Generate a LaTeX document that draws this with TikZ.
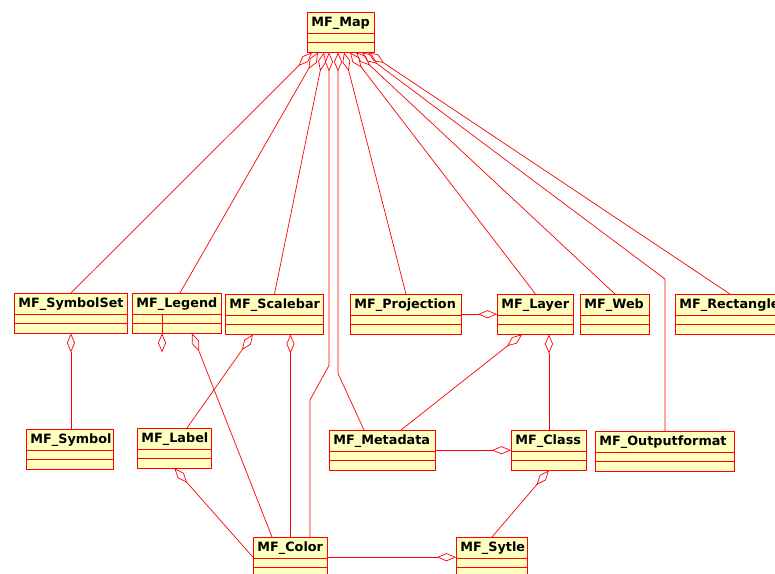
\documentclass[tikz,border=0pt]{standalone}
\usepackage{fontspec}
\setmainfont{DejaVu Sans}
\usetikzlibrary{arrows.meta,calc}
\definecolor{classfill}{HTML}{FFFFC0}
\definecolor{umlred}{HTML}{FF0000}
\tikzset{
  cls/.style={draw=umlred, line width=0.9pt, fill=classfill, anchor=north west,
    inner xsep=4pt, inner ysep=0pt, text height=14.5pt, text depth=25pt,
    text width=#1pt, align=left, font=\fontsize{12.8}{14}\selectfont\bfseries,
    path picture={
      \draw[umlred, line width=0.9pt]
        ([yshift=-21pt]path picture bounding box.north west) -- ([yshift=-21pt]path picture bounding box.north east)
        ([yshift=-30pt]path picture bounding box.north west) -- ([yshift=-30pt]path picture bounding box.north east);
    }},
  agg/.style={draw=umlred, line width=0.7pt, {Diamond[open, length=19pt, width=8pt]}-}
}
\begin{document}
\begin{tikzpicture}[x=1pt, y=-1pt]
  \useasboundingbox (0,0) rectangle (775,573);
  \fill[white] (0,0) rectangle (775,573);
  \clip (0,0) rectangle (775,573);

  % classes
  \node[cls=59]  (map)          at (307,12)  {MF\_Map};
  \node[cls=105] (symbolset)    at (14,293)  {MF\_SymbolSet};
  \node[cls=81]  (legend)       at (132,293) {MF\_Legend};
  \node[cls=90]  (scalebar)     at (225,294) {MF\_Scalebar};
  \node[cls=103] (projection)   at (350,294) {MF\_Projection};
  \node[cls=68]  (layer)        at (497,294) {MF\_Layer};
  \node[cls=61]  (web)          at (580,294) {MF\_Web};
  \node[cls=101] (rectangle)    at (675,294) {MF\_Rectangle};
  \node[cls=79]  (symbol)       at (26,429)  {MF\_Symbol};
  \node[cls=66]  (label)        at (137,428) {MF\_Label};
  \node[cls=98]  (metadata)     at (329,430) {MF\_Metadata};
  \node[cls=67]  (class)        at (511,430) {MF\_Class};
  \node[cls=131] (outputformat) at (595,431) {MF\_Outputformat};
  \node[cls=66]  (color)        at (253,537) {MF\_Color};
  \node[cls=63]  (sytle)        at (456,537) {MF\_Sytle};

  % aggregations owned by MF_Map
  \draw[agg] ($(map.south west)+(5,0)$)  -- (symbolset.north);
  \draw[agg] ($(map.south west)+(11,0)$) -- ($(legend.north)+(3,0)$);
  \draw[agg] ($(map.south west)+(17,0)$) -- (scalebar.north);
  \draw[agg] ($(map.south west)+(22,0)$) -- ++(0,313)
             -- ($(color.north west)+(57,-137)$) -- ($(color.north west)+(57,0)$);
  \draw[agg] ($(map.south west)+(31,0)$) -- ++(0,321)
             -- ($(metadata.north west)+(35,0)$);
  \draw[agg] ($(map.south west)+(37,0)$) -- (projection.north);
  \draw[agg] ($(map.south west)+(43,0)$) -- (layer.north);
  \draw[agg] ($(map.south west)+(49,0)$) -- (web.north);
  \draw[agg] ($(map.south west)+(55,0)$) -- ($(outputformat.north)+(0,-152)$)
             -- (outputformat.north);
  \draw[agg] ($(map.south west)+(61,0)$) -- (rectangle.north);

  % remaining aggregations
  \draw[agg] (symbolset.south) -- (symbolset.south |- symbol.north);
  \draw[agg] ($(legend.south west)+(30,0)$) -- ($(legend.south west)+(30,0)$ |- label.north);
  \draw[agg] ($(legend.south west)+(60,0)$) -- ($(color.north west)+(19,0)$);
  \draw[agg] ($(scalebar.south west)+(28,0)$) -- ($(label.north west)+(50,0)$);
  \draw[agg] (scalebar.south -| color.north) -- (color.north);
  \draw[agg] (label.south) -- (color.west);
  \draw[agg] (sytle.west) -- (color.east);
  \draw[agg] (layer.west) -- (projection.east);
  \draw[agg] (class.north |- layer.south) -- (class.north);
  \draw[agg] ($(layer.south west)+(25,0)$) -- ($(metadata.north west)+(72,0)$);
  \draw[agg] (class.west) -- (metadata.east);
  \draw[agg] (class.south) -- (sytle.north);
\end{tikzpicture}
\end{document}
